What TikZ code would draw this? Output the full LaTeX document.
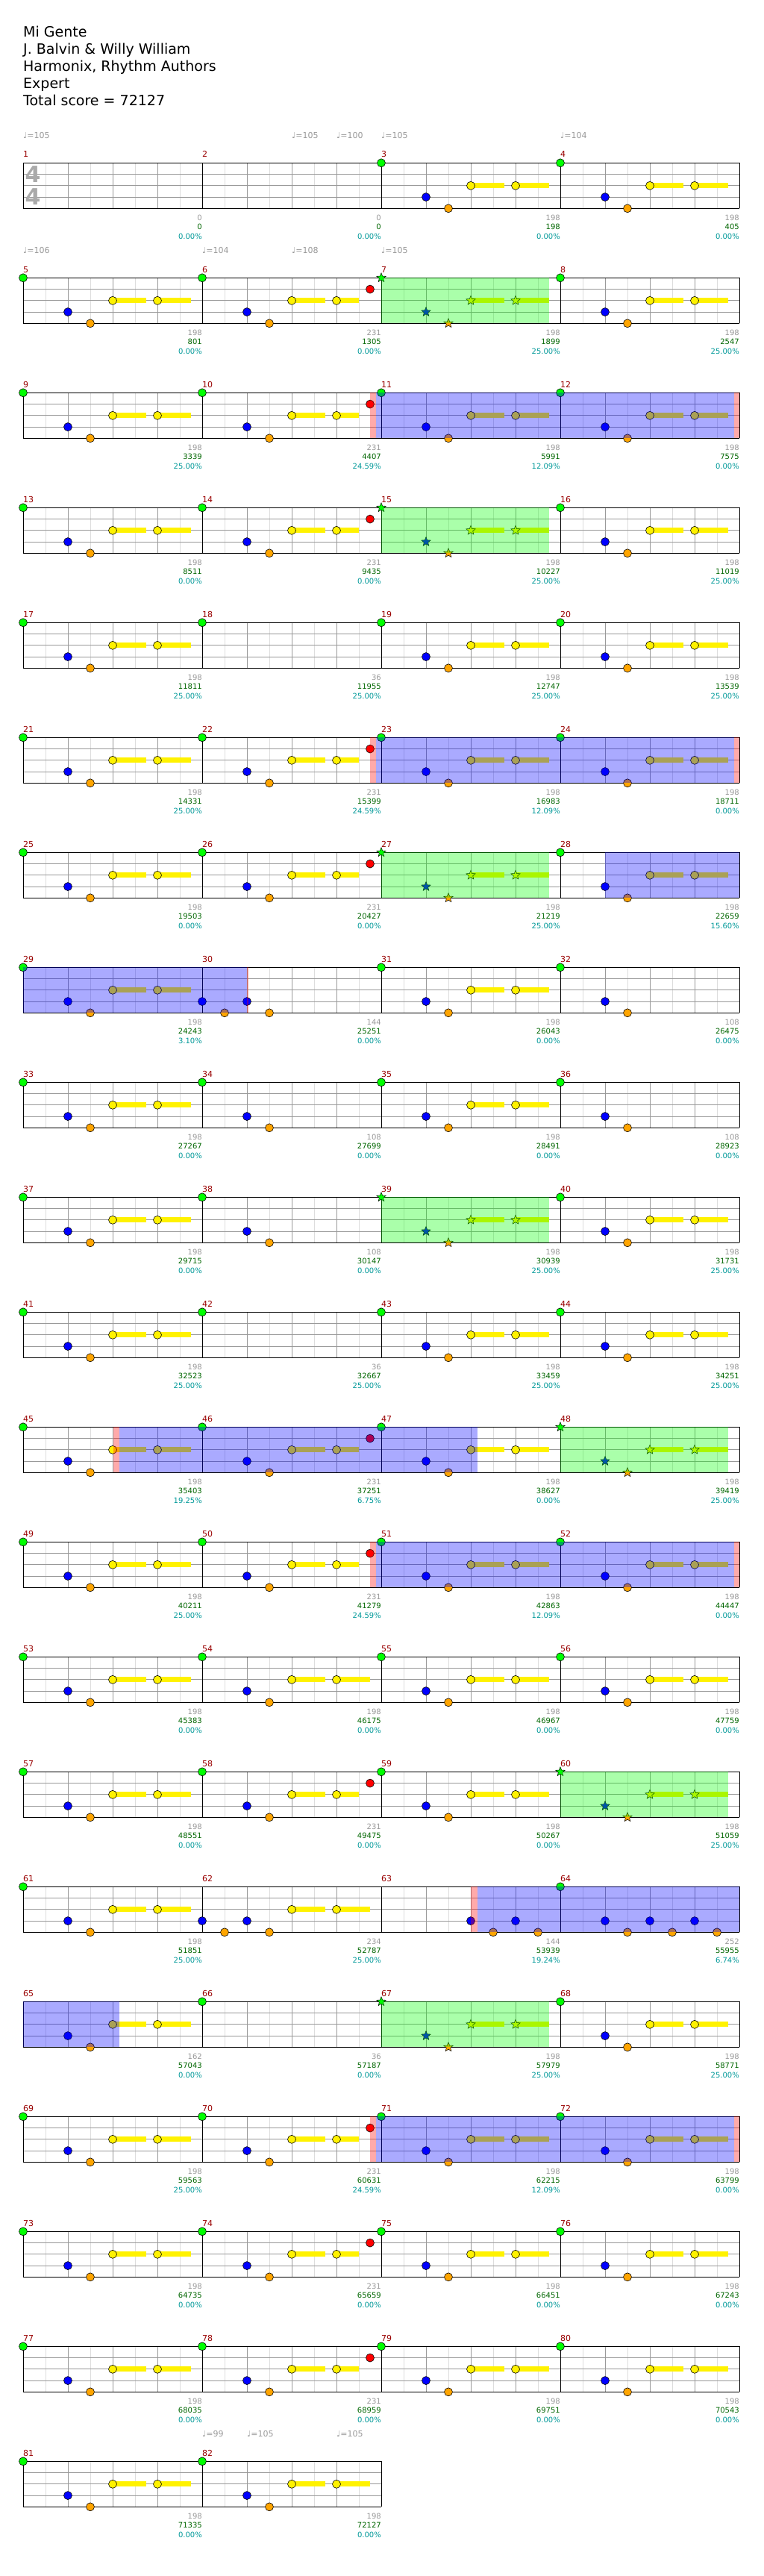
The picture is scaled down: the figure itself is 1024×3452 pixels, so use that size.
\documentclass[tikz,border=0pt]{standalone}
\usepackage{fontspec}
\setmainfont{DejaVu Sans}
\usetikzlibrary{shapes.geometric}
\definecolor{mnum}{HTML}{990000}
\definecolor{tgray}{HTML}{999999}
\definecolor{sgray}{HTML}{999999}
\definecolor{sgreen}{HTML}{006600}
\definecolor{steal}{HTML}{009999}
\definecolor{lgray}{HTML}{DDDDDD}
\definecolor{mgray}{HTML}{999999}
\definecolor{ngreen}{HTML}{00FF00}
\definecolor{norange}{HTML}{FFA500}
\definecolor{sigray}{HTML}{AAAAAA}
\newcommand\fsz[1]{\fontsize{#1}{#1}\selectfont}
\newcommand\setm[1]{%
 \pgfmathtruncatemacro\mR{int((#1-1)/4)}%
 \pgfmathtruncatemacro\mC{#1-1-4*\mR}%
 \pgfmathsetmacro\mX{31+240*\mC}%
 \pgfmathsetmacro\mT{218.3+154*\mR}}
\newcommand\dnote[3]{\filldraw[fill=#3,draw=black,line width=0.6pt] ({\mX+60*(#1-1)},{\mT+15.25*#2}) circle[radius=5.5pt];}
\newcommand\ytail[2]{\fill[yellow] ({\mX+60*(#1-1)},{\mT+30.5-3.4}) rectangle ({\mX+60*(#2-1)},{\mT+30.5+3.4});}
\newcommand\snote[3]{\node[starnote,fill=#3] at ({\mX+60*(#1-1)},{\mT+15.25*#2}) {};}
\newcommand\pate{}
\newcommand\patstd{\ytail{3}{3.75}\ytail{4}{4.75}\dnote{1}{0}{ngreen}\dnote{2}{3}{blue}\dnote{2.5}{4}{norange}\dnote{3}{2}{yellow}\dnote{4}{2}{yellow}}
\newcommand\patred{\ytail{3}{3.75}\ytail{4}{4.5}\dnote{1}{0}{ngreen}\dnote{2}{3}{blue}\dnote{2.5}{4}{norange}\dnote{3}{2}{yellow}\dnote{4}{2}{yellow}\dnote{4.75}{1}{red}}
\newcommand\patstar{\ytail{3}{3.75}\ytail{4}{4.75}\snote{1}{0}{ngreen}\snote{2}{3}{blue}\snote{2.5}{4}{norange}\snote{3}{2}{yellow}\snote{4}{2}{yellow}}
\newcommand\patshort{\dnote{1}{0}{ngreen}\dnote{2}{3}{blue}\dnote{2.5}{4}{norange}}
\newcommand\patg{\dnote{1}{0}{ngreen}}
\newcommand\patA{\dnote{1}{3}{blue}\dnote{1.5}{4}{norange}\dnote{2}{3}{blue}\dnote{2.5}{4}{norange}}
\newcommand\patB{\ytail{3}{3.75}\ytail{4}{4.75}\patA\dnote{3}{2}{yellow}\dnote{4}{2}{yellow}}
\newcommand\patC{\dnote{3}{3}{blue}\dnote{3.5}{4}{norange}\dnote{4}{3}{blue}\dnote{4.5}{4}{norange}}
\newcommand\patD{\dnote{1}{0}{ngreen}\dnote{2}{3}{blue}\dnote{2.5}{4}{norange}\patC}
\newcommand\patE{\ytail{3}{3.75}\ytail{4}{4.75}\dnote{2}{3}{blue}\dnote{2.5}{4}{norange}\dnote{3}{2}{yellow}\dnote{4}{2}{yellow}}
\tikzset{
 starnote/.style={star,star points=5,star point ratio=2.3,minimum size=13pt,inner sep=0pt,draw=black,line width=0.5pt},
 mnumst/.style={anchor=base west,text=mnum,font=\fsz{11},inner sep=0pt},
 tempost/.style={anchor=base west,text=tgray,font=\fsz{11},inner sep=0pt},
 sgst/.style={anchor=base east,text=sgray,font=\fsz{10},inner sep=0pt},
 sgrst/.style={anchor=base east,text=sgreen,font=\fsz{10},inner sep=0pt},
 stst/.style={anchor=base east,text=steal,font=\fsz{10},inner sep=0pt},
 titlest/.style={anchor=base west,text=black,font=\fsz{19},inner sep=0pt},
 sigst/.style={text=sigray,font=\fsz{30}\bfseries,inner sep=0pt},
 ovl/.style={fill opacity=0.333}
}
\begin{document}
\begin{tikzpicture}[x=1pt,y=-1pt]
\fill[white] (0,0) rectangle (1024,3452);
\useasboundingbox (0,0) rectangle (1024,3452);
% title
\foreach \t [count=\i from 0] in {Mi Gente,J. Balvin \& Willy William,{Harmonix, Rhythm Authors},Expert,Total score = 72127}
 \node[titlest] (title\i) at (31,{49.3+23*\i}) {\t};
% staff grid
\foreach \m in {1,...,82}{%
 \setm{\m}%
 \foreach \k in {30,90,150,210} \draw[lgray,line width=0.8pt] ({\mX+\k},\mT) -- ({\mX+\k},{\mT+61});
 \foreach \k in {60,120,180} \draw[mgray,line width=0.8pt] ({\mX+\k},\mT) -- ({\mX+\k},{\mT+61});
 \foreach \k in {15.25,30.5,45.75} \draw[mgray,line width=0.8pt] (\mX,{\mT+\k}) -- ({\mX+240},{\mT+\k});
 \draw[black,line width=0.8pt] (\mX,\mT) -- (\mX,{\mT+61}) ({\mX+240},\mT) -- ({\mX+240},{\mT+61});
 \draw[black,line width=1.2pt] (\mX,\mT) -- ({\mX+240},\mT) (\mX,{\mT+61}) -- ({\mX+240},{\mT+61});
}
% time signature
\node[sigst] (sig1) at (44,233.8) {4};
\node[sigst] (sig2) at (44,263.3) {4};
% notes and texts
\foreach \m/\typ/\g/\s/\p in {
1/e/0/0/0.00,2/e/0/0/0.00,3/std/198/198/0.00,4/std/198/405/0.00,
5/std/198/801/0.00,6/red/231/1305/0.00,7/star/198/1899/25.00,8/std/198/2547/25.00,
9/std/198/3339/25.00,10/red/231/4407/24.59,11/std/198/5991/12.09,12/std/198/7575/0.00,
13/std/198/8511/0.00,14/red/231/9435/0.00,15/star/198/10227/25.00,16/std/198/11019/25.00,
17/std/198/11811/25.00,18/g/36/11955/25.00,19/std/198/12747/25.00,20/std/198/13539/25.00,
21/std/198/14331/25.00,22/red/231/15399/24.59,23/std/198/16983/12.09,24/std/198/18711/0.00,
25/std/198/19503/0.00,26/red/231/20427/0.00,27/star/198/21219/25.00,28/std/198/22659/15.60,
29/std/198/24243/3.10,30/A/144/25251/0.00,31/std/198/26043/0.00,32/short/108/26475/0.00,
33/std/198/27267/0.00,34/short/108/27699/0.00,35/std/198/28491/0.00,36/short/108/28923/0.00,
37/std/198/29715/0.00,38/short/108/30147/0.00,39/star/198/30939/25.00,40/std/198/31731/25.00,
41/std/198/32523/25.00,42/g/36/32667/25.00,43/std/198/33459/25.00,44/std/198/34251/25.00,
45/std/198/35403/19.25,46/red/231/37251/6.75,47/std/198/38627/0.00,48/star/198/39419/25.00,
49/std/198/40211/25.00,50/red/231/41279/24.59,51/std/198/42863/12.09,52/std/198/44447/0.00,
53/std/198/45383/0.00,54/std/198/46175/0.00,55/std/198/46967/0.00,56/std/198/47759/0.00,
57/std/198/48551/0.00,58/red/231/49475/0.00,59/std/198/50267/0.00,60/star/198/51059/25.00,
61/std/198/51851/25.00,62/B/234/52787/25.00,63/C/144/53939/19.24,64/D/252/55955/6.74,
65/E/162/57043/0.00,66/g/36/57187/0.00,67/star/198/57979/25.00,68/std/198/58771/25.00,
69/std/198/59563/25.00,70/red/231/60631/24.59,71/std/198/62215/12.09,72/std/198/63799/0.00,
73/std/198/64735/0.00,74/red/231/65659/0.00,75/std/198/66451/0.00,76/std/198/67243/0.00,
77/std/198/68035/0.00,78/red/231/68959/0.00,79/std/198/69751/0.00,80/std/198/70543/0.00,
81/std/198/71335/0.00,82/std/198/72127/0.00}{%
 \setm{\m}%
 \csname pat\typ\endcsname
 \node[mnumst] (mn\m) at (\mX,{\mT-7.3}) {\m};
 \node[sgst] (sa\m) at ({\mX+240},{\mT+76.7}) {\g};
 \node[sgrst] (sb\m) at ({\mX+240},{\mT+89.4}) {\s};
 \node[stst] (sc\m) at ({\mX+240},{\mT+102}) {\p\%};
}
% overlays: green (overdrive) regions
\foreach \m in {7,15,27,39,48,60,67}{%
 \setm{\m}%
 \fill[ngreen,ovl] (\mX,\mT) rectangle ({\mX+225},{\mT+61});
}
% overlays: blue regions with red markers
\foreach \T in {526.3,988.3,2066.3,2836.3}{%
 \fill[red,ovl] (496,\T) rectangle (503.5,{\T+61});
 \fill[blue,ovl] (503.5,\T) rectangle (983.5,{\T+61});
 \fill[red,ovl] (983.5,\T) rectangle (991,{\T+61});
}
\fill[blue,ovl] (811,1142.3) rectangle (991,1203.3);
\fill[blue,ovl] (31,1296.3) rectangle (331,1357.3);
\fill[red,ovl] (331,1296.3) rectangle (332.5,1357.3);
\fill[red,ovl] (151.5,1912.3) rectangle (159.5,1973.3);
\fill[blue,ovl] (159.5,1912.3) rectangle (639.5,1973.3);
\fill[red,ovl] (631,2528.3) rectangle (639.5,2589.3);
\fill[blue,ovl] (639.5,2528.3) rectangle (991,2589.3);
\fill[blue,ovl] (31,2682.3) rectangle (159.5,2743.3);
% tempo marks
\foreach \x/\T/\v [count=\i] in {31/218.3/105,391/218.3/105,451/218.3/100,511/218.3/105,751/218.3/104,
 31/372.3/106,271/372.3/104,391/372.3/108,511/372.3/105,
 271/3298.3/99,331/3298.3/105,451/3298.3/105}
 \node[tempost] (tempo\i) at (\x,{\T-33}) {♩=\v};
\end{tikzpicture}
\end{document}
